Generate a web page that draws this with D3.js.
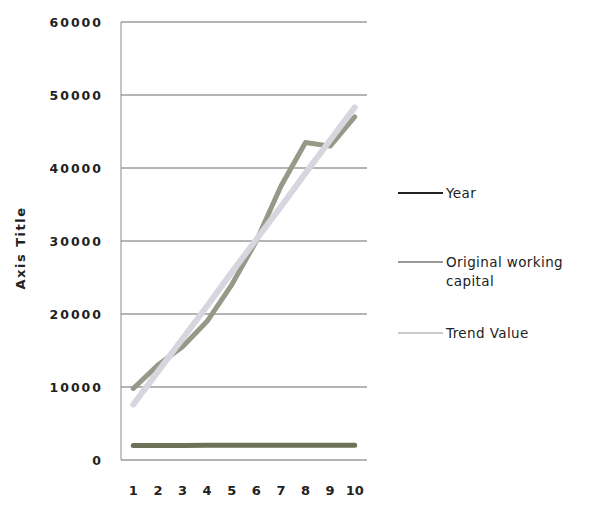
<!DOCTYPE html>
<html><head><meta charset="utf-8">
<script src="https://cdn.jsdelivr.net/npm/d3@7"></script>
<style>body{margin:0;background:#fff}</style>
</head><body>
<svg id="c" width="591" height="508"></svg>
<script>
const categories = [1,2,3,4,5,6,7,8,9,10];
const yearValues = [2001,2002,2003,2004,2005,2006,2007,2008,2009,2010];
const originalWorkingCapital = [9800,13000,15500,19000,24000,30000,37500,43500,43000,47000];
const trendValue = [7600,12100,16600,21100,25700,30200,34700,39300,43800,48300];
const yTicks = [0,10000,20000,30000,40000,50000,60000];
const seriesNames = ["Year","Original working capital","Trend Value"];

(function(){
const svg = d3.select("#c");
const pL=121, pR=367, pT=22, pB=460;
const x = d3.scaleBand().domain(categories).range([pL,pR]);
const y = d3.scaleLinear().domain([0,60000]).range([pB,pT]);
const cx = d => x(d)+x.bandwidth()/2;

// gridlines
svg.append("g").selectAll("line").data(yTicks).join("line")
  .attr("x1",pL).attr("x2",pR).attr("y1",d=>y(d)).attr("y2",d=>y(d))
  .attr("stroke","#6a6a6a").attr("stroke-width",1);
svg.append("line").attr("x1",pL).attr("x2",pL).attr("y1",pT).attr("y2",pB)
  .attr("stroke","#8a8a8a").attr("stroke-width",1);

// y axis labels
const yAxis = d3.axisLeft(y).tickValues(yTicks).tickSize(0).tickPadding(18).tickFormat(d3.format("d"));
const gy = svg.append("g").attr("transform",`translate(${pL},0)`).call(yAxis);
gy.select(".domain").remove();
gy.selectAll("text").attr("font-family","DejaVu Sans").attr("font-size",12.5).attr("font-weight","bold")
  .attr("letter-spacing","2px").attr("fill","#222");

// x axis labels
const xAxis = d3.axisBottom(x).tickSize(0).tickPadding(26);
const gx = svg.append("g").attr("transform",`translate(0,${pB})`).call(xAxis);
gx.select(".domain").remove();
gx.selectAll("text").attr("font-family","DejaVu Sans").attr("font-size",13).attr("font-weight","bold").attr("fill","#222");

// axis title
svg.append("text").attr("transform","translate(25,248) rotate(-90)").attr("text-anchor","middle")
  .attr("font-family","DejaVu Sans").attr("font-size",13).attr("font-weight","bold").attr("fill","#222")
  .attr("letter-spacing","1.5px")
  .text("Axis Title");

const line = d3.line().x((d,i)=>cx(categories[i])).y(d=>y(d));
const series = [
  {name:seriesNames[0], values:yearValues, color:"#6e7158", w:5, lc:"#222"},
  {name:seriesNames[1], values:originalWorkingCapital, color:"#979887", w:5, lc:"#777"},
  {name:seriesNames[2], values:trendValue, color:"#d6d6de", w:6, lc:"#bbb"}
];
series.forEach(s=>{
  svg.append("path").datum(s.values).attr("d",line).attr("fill","none")
    .attr("stroke",s.color).attr("stroke-width",s.w).attr("stroke-linecap","round").attr("stroke-linejoin","round");
});

// legend
const lg = svg.append("g");
const legY = [193, 262, 333];
series.forEach((s,i)=>{
  lg.append("line").attr("x1",398).attr("x2",443).attr("y1",legY[i]).attr("y2",legY[i])
    .attr("stroke",s.lc).attr("stroke-width",i===0?2:1.5);
  const t = lg.append("text").attr("x",446).attr("y",legY[i]+5)
    .attr("font-family","DejaVu Sans").attr("font-size",13.5).attr("letter-spacing","0.4px").attr("fill","#222");
  if(i===1){
    t.append("tspan").attr("x",446).text("Original working");
    t.append("tspan").attr("x",446).attr("dy",19).text("capital");
  } else t.text(s.name);
});
})();
</script>
</body></html>
